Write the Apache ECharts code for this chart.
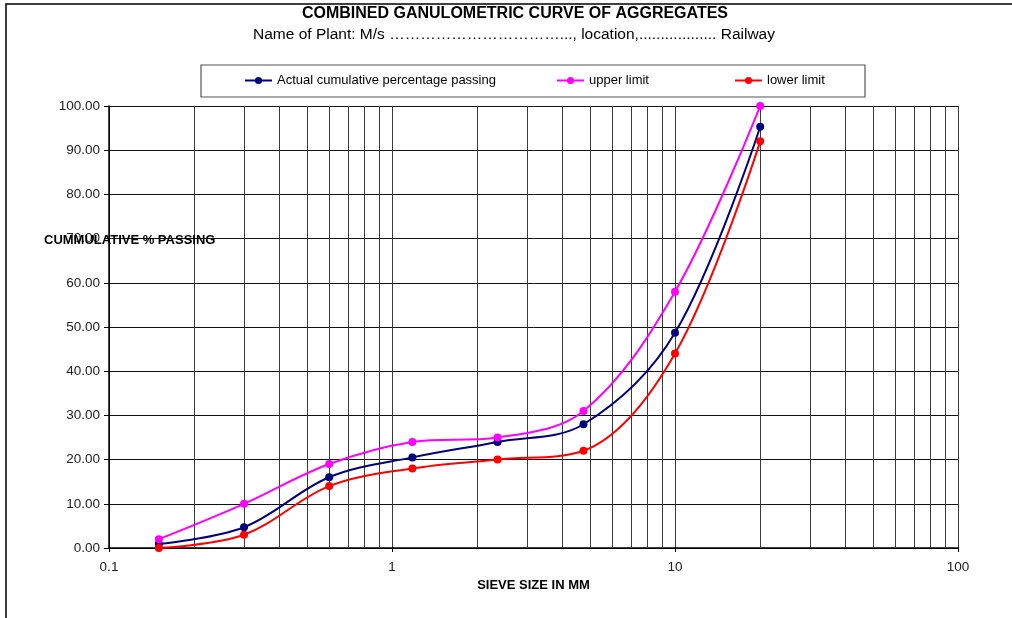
<!DOCTYPE html>
<html>
<head>
<meta charset="utf-8">
<script src="https://cdn.jsdelivr.net/npm/echarts@6/dist/echarts.min.js"></script>
<style>
html,body{margin:0;padding:0;background:#fff;}
#chart{width:1012px;height:618px;}
</style>
</head>
<body>
<div id="chart"></div>
<script>
// ---- data ----
const sieveSizes = [0.15, 0.3, 0.6, 1.18, 2.36, 4.75, 10, 20];
const actualPassing = [0.9, 4.7, 16, 20.5, 24, 28, 48.7, 95.3];
const upperLimit = [2, 10, 19, 24, 25, 31, 58, 100];
const lowerLimit = [0, 3, 14, 18, 20, 22, 44, 92];
const seriesNames = ['Actual cumulative percentage passing', 'upper limit', 'lower limit'];
const titleText = 'COMBINED GANULOMETRIC CURVE OF AGGREGATES';
const subtitleText = 'Name of Plant: M/s ……………………………..., location,.................. Railway';
const yAxisTitle = 'CUMMULATIVE % PASSING';
const xAxisTitle = 'SIEVE SIZE IN MM';

const FONT = '"Liberation Sans", Arial, sans-serif';
const colors = ['#000080', '#FF00FF', '#FF0000'];

function pairs(vals) { return sieveSizes.map((x, i) => [x, vals[i]]); }

// minor log grid positions (2..9 in each decade)
const minorGrid = [];
[0.1, 1, 10].forEach(d => { for (let k = 2; k <= 9; k++) minorGrid.push({ xAxis: +(d * k).toPrecision(3) }); });

const chart = echarts.init(document.getElementById('chart'));
const lineSeries = [actualPassing, upperLimit, lowerLimit].map((vals, i) => ({
  name: seriesNames[i],
  type: 'line',
  data: pairs(vals),
  smooth: 0.35,
  symbol: 'circle',
  symbolSize: 8,
  z: 5 + i,
  itemStyle: { color: colors[i] },
  lineStyle: { color: colors[i], width: 2 },
  animation: false
}));
lineSeries[0].markLine = {
  silent: true, symbol: 'none', animation: false,
  label: { show: false },
  lineStyle: { color: '#3a3a3a', width: 1, type: 'solid' },
  data: minorGrid, z: 1
};

chart.setOption({
  animation: false,
  backgroundColor: '#fff',
  textStyle: { fontFamily: FONT },
  graphic: [
    { type: 'rect', shape: { x: 6, y: 4, width: 1100, height: 700 }, style: { fill: 'none', stroke: '#000', lineWidth: 1.5 }, z: 0 },
    { type: 'rect', shape: { x: 201, y: 65, width: 664, height: 32 }, style: { fill: '#fff', stroke: '#555', lineWidth: 1.2 }, z: 1 },
    { type: 'text', x: 515, y: 14, style: { text: titleText, font: 'bold 16px ' + FONT, fill: '#000', align: 'center', verticalAlign: 'middle' } },
    { type: 'text', x: 514, y: 35, style: { text: subtitleText, font: '15.5px ' + FONT, fill: '#000', align: 'center', verticalAlign: 'middle' } },
    { type: 'text', x: 44, y: 240, z: 50, style: { text: yAxisTitle, font: 'bold 13px ' + FONT, fill: '#000', align: 'left', verticalAlign: 'middle' } }
  ],
  legend: seriesNames.map((n, i) => ({
    data: [n],
    left: [244, 556, 734][i],
    top: 74,
    itemWidth: 27,
    itemHeight: 9,
    padding: 0,
    textStyle: { fontSize: 13, color: '#000', fontFamily: FONT },
    z: 10
  })),
  grid: { left: 109, right: 54, top: 106, bottom: 70, containLabel: false },
  xAxis: {
    type: 'log',
    logBase: 10,
    min: 0.1,
    max: 100,
    name: xAxisTitle,
    nameLocation: 'middle',
    nameGap: 29,
    nameTextStyle: { fontWeight: 'bold', fontSize: 13, color: '#000', fontFamily: FONT },
    axisLine: { show: true, lineStyle: { color: '#000', width: 1.5 } },
    axisTick: { show: true, inside: false, length: 4, lineStyle: { color: '#000' } },
    axisLabel: { fontSize: 13.5, color: '#222', margin: 12, formatter: v => String(v) },
    splitLine: { show: true, lineStyle: { color: '#3a3a3a', width: 1 } },
    minorTick: { show: false },
    minorSplitLine: { show: false }
  },
  yAxis: {
    type: 'value',
    min: 0,
    max: 100,
    interval: 10,
    axisLine: { show: true, lineStyle: { color: '#000', width: 1.5 } },
    axisTick: { show: true, inside: false, length: 5, lineStyle: { color: '#000' } },
    axisLabel: { fontSize: 13.5, color: '#222', margin: 9, formatter: v => v.toFixed(2) },
    splitLine: { show: true, lineStyle: { color: '#111', width: 1 } }
  },
  series: lineSeries
});
</script>
</body>
</html>
